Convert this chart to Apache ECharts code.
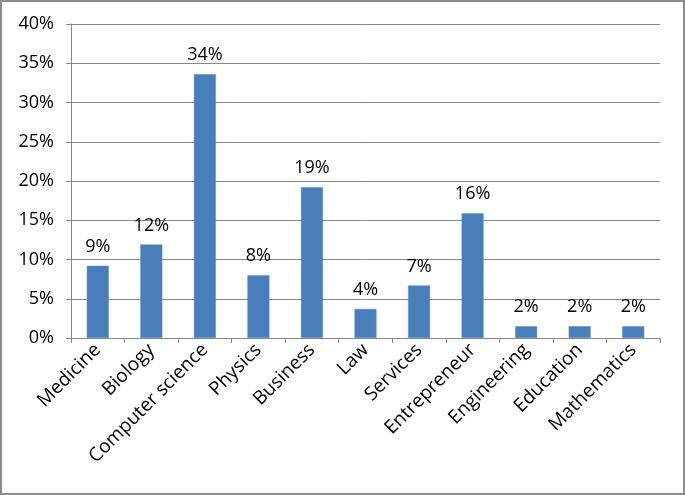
<!DOCTYPE html>
<html>
<head>
<meta charset="utf-8">
<script src="https://cdn.jsdelivr.net/npm/echarts@6/dist/echarts.min.js"></script>
<style>
html,body{margin:0;padding:0;background:#fff;}
#chart{width:685px;height:495px;box-sizing:border-box;border:2px solid #8c8c8c;}
</style>
</head>
<body>
<div id="chart"></div>
<script>
const categories = ["Medicine","Biology","Computer science","Physics","Business","Law","Services","Entrepreneur","Engineering","Education","Mathematics"];
const values = [9.2, 11.9, 33.6, 8.0, 19.2, 3.7, 6.7, 15.9, 1.5, 1.5, 1.5];
const yTicks = [0, 5, 10, 15, 20, 25, 30, 35, 40];

const font = "Open Sans";
const chart = echarts.init(document.getElementById('chart'), null, {renderer:'canvas'});
chart.setOption({
  animation:false,
  grid:{left:69, right:23, top:22, bottom:155},
  xAxis:{
    type:'category',
    data:categories,
    axisLine:{lineStyle:{color:'#888', width:1}},
    axisTick:{show:true, alignWithLabel:false, length:5, lineStyle:{color:'#888'}},
    axisLabel:{rotate:45, interval:0, color:'#000', fontFamily:font, fontSize:19, margin:9}
  },
  yAxis:{
    type:'value',
    min:yTicks[0], max:yTicks[yTicks.length-1], interval:5,
    axisLine:{show:true, lineStyle:{color:'#888', width:1}},
    axisTick:{show:true, length:5, lineStyle:{color:'#888'}},
    splitLine:{lineStyle:{color:'#888', width:1}},
    axisLabel:{color:'#000', fontFamily:font, fontSize:18, margin:17, formatter: v => v + '%'}
  },
  series:[{
    type:'bar',
    data:values,
    barWidth:22,
    itemStyle:{color:'#4A7EBB', borderColor:'#5B8CC6', borderWidth:0.5},
    label:{show:true, position:'top', distance:10, color:'#000', fontFamily:font, fontSize:18,
      formatter: p => Math.round(p.value) + '%'}
  }]
});
</script>
</body>
</html>
